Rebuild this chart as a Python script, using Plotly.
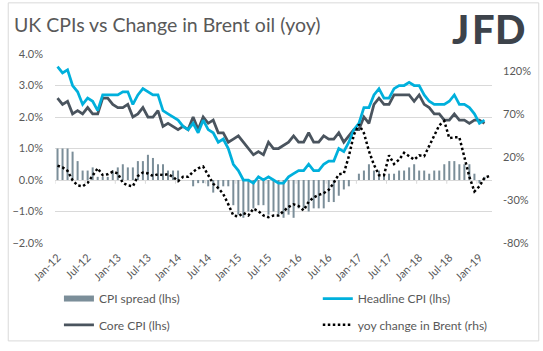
import pandas as pd
import plotly.graph_objects as go

# ---------------- data ----------------
months = list(pd.date_range("2012-01-01", periods=87, freq="MS").strftime("%b-%y"))
tick_labels = ["Jan-12", "Jul-12", "Jan-13", "Jul-13", "Jan-14", "Jul-14", "Jan-15", "Jul-15",
               "Jan-16", "Jul-16", "Jan-17", "Jul-17", "Jan-18", "Jul-18", "Jan-19"]
rhs_ticks = [-80, -30, 20, 70, 120]
rhs_labels = ["-80%", "-30%", "20%", "70%", "120%"]

headline = [3.6, 3.4, 3.5, 3.0, 2.8, 2.4, 2.6, 2.5, 2.2, 2.7, 2.7, 2.7,
            2.7, 2.8, 2.8, 2.4, 2.7, 2.9, 2.8, 2.7, 2.7, 2.2, 2.1, 2.0,
            1.9, 1.7, 1.6, 1.8, 1.5, 1.9, 1.6, 1.5, 1.2, 1.3, 1.0, 0.5,
            0.3, 0.0, 0.0, -0.1, 0.1, 0.0, 0.1, 0.0, -0.1, -0.1, 0.1, 0.2,
            0.3, 0.3, 0.5, 0.3, 0.3, 0.5, 0.6, 0.6, 1.0, 0.9, 1.2, 1.6,
            1.8, 2.3, 2.3, 2.7, 2.9, 2.6, 2.6, 2.9, 3.0, 3.0, 3.1, 3.0,
            3.0, 2.7, 2.5, 2.4, 2.4, 2.4, 2.5, 2.7, 2.4, 2.4, 2.3, 2.1,
            1.8, 1.9]

core = [2.6, 2.4, 2.5, 2.1, 2.2, 2.1, 2.3, 2.1, 2.1, 2.6, 2.6, 2.4,
        2.3, 2.3, 2.4, 2.0, 2.1, 2.3, 2.0, 2.0, 2.2, 1.7, 1.8, 1.7,
        1.6, 1.7, 1.6, 2.0, 1.6, 2.0, 1.8, 1.9, 1.5, 1.5, 1.2, 1.3,
        1.4, 1.2, 1.0, 0.8, 0.9, 0.8, 1.2, 1.0, 1.0, 1.1, 1.2, 1.4,
        1.2, 1.2, 1.5, 1.2, 1.2, 1.4, 1.3, 1.3, 1.5, 1.2, 1.4, 1.6,
        1.6, 2.0, 1.8, 2.4, 2.6, 2.4, 2.4, 2.7, 2.7, 2.7, 2.7, 2.5,
        2.7, 2.4, 2.3, 2.1, 2.1, 1.9, 1.9, 2.1, 1.9, 1.9, 1.8, 1.9,
        1.9, 1.8]

spread = [1.0, 1.0, 1.0, 0.9, 0.6, 0.3, 0.3, 0.4, 0.1, 0.1, 0.1, 0.3,
          0.4, 0.5, 0.4, 0.4, 0.6, 0.6, 0.8, 0.7, 0.5, 0.5, 0.3, 0.3,
          0.3, 0.0, 0.0, -0.2, -0.1, -0.1, -0.2, -0.4, -0.3, -0.2, -0.2, -0.8,
          -1.1, -1.2, -1.0, -0.9, -0.8, -0.8, -1.1, -1.0, -1.1, -1.2, -1.1, -1.2,
          -0.9, -0.9, -1.0, -0.9, -0.9, -0.9, -0.7, -0.7, -0.5, -0.3, -0.2, 0.0,
          0.2, 0.3, 0.5, 0.3, 0.3, 0.2, 0.2, 0.2, 0.3, 0.3, 0.4, 0.5,
          0.3, 0.3, 0.2, 0.3, 0.3, 0.5, 0.6, 0.6, 0.5, 0.5, 0.5, 0.2,
          -0.1, 0.1]

brent = [10, 8, 4, -7, -13, -14, -10, -1, 7, -1, 0, 3,
         1, -10, -13, -14, -2, 2, 1, -2, 0, -1, 0, -3,
         -8, -3, -3, 3, 7, 9, -1, -11, -16, -23, -35, -48,
         -49, -45, -48, -40, -43, -48, -50, -48, -48, -43, -38, -35,
         -37, -42, -32, -27, -24, -22, -18, -10, 0, 1, 21, 46,
         58, 48, 27, 11, -1, -1, 22, 12, 17, 25, 21, 17,
         22, 21, 33, 46, 57, 62, 42, 43, 43, 20, -3, -20,
         -14, -4, -2]

# ---------------- styling ----------------
FONT = "Lato"
GREY_TXT = "#595959"
C_SPREAD = "#7b8e99"
C_HEAD = "#00b0dc"
C_CORE = "#4a545e"
C_BRENT = "#000000"

W, H = 543, 351
ML, MR, MT, MB = 49, 50, 54, 103
PW, PH = W - ML - MR, H - MT - MB


def px_to_paper_x(px):
    return (px - ML) / PW


def px_to_paper_y(py):
    return (H - MB - py) / PH


fig = go.Figure()

fig.add_trace(go.Bar(x=months[:len(spread)], y=spread, marker_color=C_SPREAD,
                     marker_line_width=0, showlegend=False, name="CPI spread (lhs)"))
fig.add_trace(go.Scatter(x=[None], y=[None], mode="lines", name="CPI spread (lhs)",
                         line=dict(color=C_SPREAD, width=6), legend="legend"))
fig.add_trace(go.Scatter(x=months[:len(core)], y=core, mode="lines", name="Core CPI (lhs)",
                         line=dict(color=C_CORE, width=2.75), legend="legend2"))
fig.add_trace(go.Scatter(x=months[:len(headline)], y=headline, mode="lines",
                         name="Headline CPI (lhs)",
                         line=dict(color=C_HEAD, width=2.75), legend="legend3"))
fig.add_trace(go.Scatter(x=months[:len(brent)], y=brent, mode="lines",
                         name="yoy change in Brent (rhs)", yaxis="y2",
                         line=dict(color=C_BRENT, width=2.5, dash="2.5px,2.5px"),
                         legend="legend4"))

# small tick marks on the zero line (category boundaries every 6 months)
shapes = []
for i in range(0, len(months), 6):
    shapes.append(dict(type="line", xref="x", yref="y", x0=i - 0.5, x1=i - 0.5,
                       y0=0, y1=-0.12, line=dict(color="#d9d9d9", width=1)))
# outer border
shapes.append(dict(type="rect", xref="paper", yref="paper",
                   x0=px_to_paper_x(1.5), x1=px_to_paper_x(540.5),
                   y0=px_to_paper_y(348.5), y1=px_to_paper_y(1.5),
                   line=dict(color="#d9d9d9", width=1), layer="below"))

leg_common = dict(bgcolor="rgba(0,0,0,0)", font=dict(family=FONT, size=12, color=GREY_TXT),
                  xanchor="left", yanchor="middle", itemwidth=30)

annotations = []
for letter, cx in (("J", 461), ("F", 484), ("D", 511)):
    annotations.append(dict(text=letter, xref="paper", yref="paper",
                            x=px_to_paper_x(cx), y=px_to_paper_y(28),
                            xanchor="center", yanchor="middle", showarrow=False,
                            font=dict(family=FONT, size=40, color="#3d434b", weight=900)))

fig.update_layout(
    width=W, height=H,
    margin=dict(l=ML, r=MR, t=MT, b=MB),
    paper_bgcolor="white", plot_bgcolor="white",
    font=dict(family=FONT, color=GREY_TXT, size=11),
    title=dict(text="UK CPIs vs Change in Brent oil (yoy)", xref="container", yref="container",
               x=14 / W, y=1 - 25 / H, xanchor="left", yanchor="middle",
               font=dict(family=FONT, size=19.5, color=GREY_TXT)),
    bargap=0.6,
    xaxis=dict(type="category", categoryorder="array", categoryarray=months,
               range=[-0.5, len(months) - 0.5], tickmode="array",
               tickvals=months[0::6], ticktext=tick_labels, tickangle=-45,
               showgrid=False, zeroline=False, showline=False, ticks="",
               ticklabelstandoff=5, tickfont=dict(size=11, color=GREY_TXT)),
    yaxis=dict(range=[-2, 4], dtick=1, tick0=0, tickformat=".1f", ticksuffix="%",
               showgrid=True, gridcolor="#d9d9d9", gridwidth=1, zeroline=False,
               showline=False, ticks="", ticklabelstandoff=11,
               tickfont=dict(size=11, color=GREY_TXT)),
    yaxis2=dict(range=[-80, 140], overlaying="y", side="right", tickmode="array",
                tickvals=rhs_ticks, ticktext=rhs_labels, showgrid=False,
                zeroline=False, showline=False, ticks="", ticklabelstandoff=10,
                tickfont=dict(size=11, color=GREY_TXT)),
    legend=dict(x=px_to_paper_x(53), y=px_to_paper_y(305), **leg_common),
    legend2=dict(x=px_to_paper_x(53), y=px_to_paper_y(332), **leg_common),
    legend3=dict(x=px_to_paper_x(316), y=px_to_paper_y(305), **leg_common),
    legend4=dict(x=px_to_paper_x(316), y=px_to_paper_y(332), **leg_common),
    shapes=shapes,
    annotations=annotations,
)

fig.write_html("out.html")
